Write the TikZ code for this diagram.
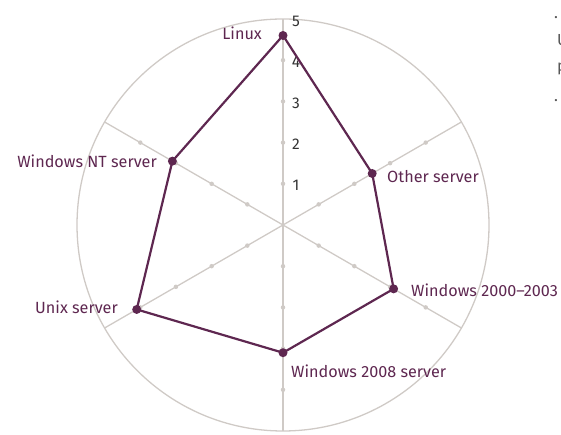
\documentclass[tikz,border=0pt]{standalone}
\usepackage{fontspec}
\setmainfont{Fira Sans}
\usetikzlibrary{calc}
\definecolor{gridc}{HTML}{CFCAC6}
\definecolor{aub}{HTML}{5E2750}
\definecolor{tickc}{HTML}{333333}
\definecolor{fragc}{HTML}{555555}
\begin{document}
\begin{tikzpicture}[x=1pt,y=1pt,
  gridline/.style={draw=gridc, line width=1.3pt},
  tickdot/.style={circle, fill=gridc, inner sep=0pt, minimum size=4.5pt},
  datadot/.style={circle, fill=aub, inner sep=0pt, minimum size=9pt},
  dataline/.style={draw=aub, line width=2.2pt, line join=round},
  lab/.style={text=aub, font=\fontsize{16.2}{18}\selectfont, inner sep=0pt},
  num/.style={text=tickc, font=\fontsize{15.5}{18}\selectfont, inner sep=0pt},
  frag/.style={text=fragc, font=\fontsize{16}{18}\selectfont, inner sep=0pt, anchor=west}]
\useasboundingbox (0,0) rectangle (561,435);
\coordinate (C) at (283,210);
\draw[gridline] (C) circle (206);
\foreach \a in {90,30,-30,-90,210,150} {
  \coordinate (E\a) at ($(C)+(\a:206)$);
  \draw[gridline] (C) -- (E\a);
  \foreach \r in {1,...,4} \node[tickdot] (t\a-\r) at ($(C)+(\a:\r*41.2)$) {};
}
% tick numbers
\foreach \r in {1,...,5} \node[num] (n\r) at ($(296,208)+(0,\r*41.2)$) {\r};
% data
\coordinate (p1) at ($(C)+(90:4.6*41.2)$);
\coordinate (p2) at ($(C)+(30:2.5*41.2)$);
\coordinate (p3) at ($(C)+(-30:3.1*41.2)$);
\coordinate (p4) at ($(C)+(-90:3.1*41.2)$);
\coordinate (p5) at ($(C)+(210:4.1*41.2)$);
\coordinate (p6) at ($(C)+(150:3.1*41.2)$);
\draw[dataline] (p1) -- (p2) -- (p3) -- (p4) -- (p5) -- (p6) -- cycle;
\node[datadot] (linux) at (p1) {};
\node[datadot] (other) at (p2) {};
\node[datadot] (w2000) at (p3) {};
\node[datadot] (w2008) at (p4) {};
\node[datadot] (unix) at (p5) {};
\node[datadot] (nt) at (p6) {};
% labels
\node[lab, anchor=east] (llinux) at (262,402) {Linux};
\node[lab, anchor=east] (lnt) at (157,274) {Windows NT server};
\node[lab, anchor=east] (lunix) at (118,128) {Unix server};
\node[lab, anchor=west] (lw2008) at (291,64) {Windows 2008 server};
\node[lab, anchor=west] (lw2000) at (411,145) {Windows 2000–2003};
\node[lab, anchor=west] (lother) at (387,258) {Other server};
% clipped text fragments at the right edge
\node[frag] (f1) at (554,417) {.};
\node[frag] (f2) at (557,395) {U};
\node[frag] (f3) at (557,366) {p};
\node[frag] (f4) at (554,334) {.};
\end{tikzpicture}
\end{document}
